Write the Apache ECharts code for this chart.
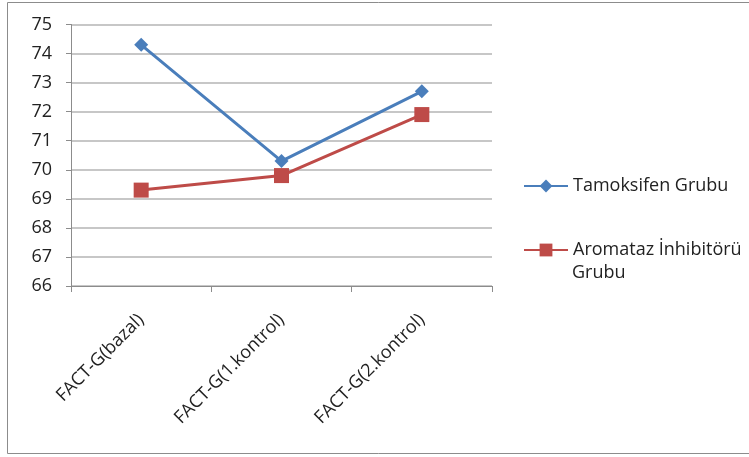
<!DOCTYPE html>
<html>
<head>
<meta charset="utf-8">
<script src="https://cdn.jsdelivr.net/npm/echarts@6/dist/echarts.min.js"></script>
<style>
  html, body { margin: 0; padding: 0; background: #fff; }
  #chart { width: 749px; height: 457px; }
</style>
</head>
<body>
<div id="chart"></div>
<script>
// FACT-G scores at three time points for the two treatment groups
const categories = ['FACT-G(bazal)', 'FACT-G(1.kontrol)', 'FACT-G(2.kontrol)'];
const tamoksifen = [74.3, 70.3, 72.7];
const aromataz = [69.3, 69.8, 71.9];
const seriesNames = ['Tamoksifen Grubu', 'Aromataz İnhibitörü Grubu'];
// second legend entry wraps onto two lines
const legendLines = ['Aromataz İnhibitörü', 'Grubu'];
const yTicks = { min: 66, max: 75, step: 1 };

const FONT = '"Open Sans", sans-serif';
const TEXT = '#222';
const BLUE = '#4a7ebb';
const RED = '#be4b48';

const chart = echarts.init(document.getElementById('chart'), null, { renderer: 'canvas' });

chart.setOption({
  animation: false,
  backgroundColor: '#fff',
  textStyle: { fontFamily: FONT },
  graphic: [
    {
      // frame around the chart area (runs off the right edge)
      type: 'rect',
      shape: { x: 7.5, y: 2.5, width: 760, height: 451 },
      style: { fill: 'none', stroke: '#8c8c8c', lineWidth: 1 },
      silent: true
    },
    {
      type: 'text',
      x: 572,
      y: 273,
      style: {
        text: legendLines[1],
        font: '18px ' + FONT,
        fill: TEXT,
        verticalAlign: 'middle',
        align: 'left'
      },
      silent: true
    }
  ],
  grid: { left: 71, top: 24.5, right: 257, bottom: 171, containLabel: false },
  legend: [
    {
      data: [seriesNames[0]],
      orient: 'vertical',
      left: 523,
      top: 177,
      padding: 0,
      itemWidth: 44,
      itemHeight: 16,
      textStyle: { fontFamily: FONT, fontSize: 18, color: TEXT }
    },
    {
      data: [seriesNames[1]],
      orient: 'vertical',
      left: 523,
      top: 241,
      padding: 0,
      itemWidth: 44,
      itemHeight: 16,
      formatter: () => legendLines[0],
      textStyle: { fontFamily: FONT, fontSize: 18, color: TEXT }
    }
  ],
  xAxis: {
    type: 'category',
    data: categories,
    boundaryGap: true,
    axisLine: { lineStyle: { color: '#8c8c8c', width: 1 } },
    axisTick: { show: true, length: 6, lineStyle: { color: '#8c8c8c' } },
    axisLabel: { rotate: 45, margin: 31, fontFamily: FONT, fontSize: 18, color: TEXT },
    splitLine: { show: false }
  },
  yAxis: {
    type: 'value',
    min: yTicks.min,
    max: yTicks.max,
    interval: yTicks.step,
    axisLine: { show: true, lineStyle: { color: '#8c8c8c', width: 1 } },
    axisTick: { show: true, length: 5, lineStyle: { color: '#8c8c8c' } },
    axisLabel: { margin: 19, fontFamily: FONT, fontSize: 18, color: TEXT },
    splitLine: { lineStyle: { color: '#b4b4b4', width: 1.5 } }
  },
  series: [
    {
      name: seriesNames[0],
      type: 'line',
      data: tamoksifen,
      symbol: 'diamond',
      symbolSize: 14,
      color: BLUE,
      lineStyle: { width: 3, color: BLUE },
      itemStyle: { color: BLUE }
    },
    {
      name: seriesNames[1],
      type: 'line',
      data: aromataz,
      symbol: 'rect',
      symbolSize: 15,
      color: RED,
      lineStyle: { width: 3, color: RED },
      itemStyle: { color: RED }
    }
  ]
});
</script>
</body>
</html>
